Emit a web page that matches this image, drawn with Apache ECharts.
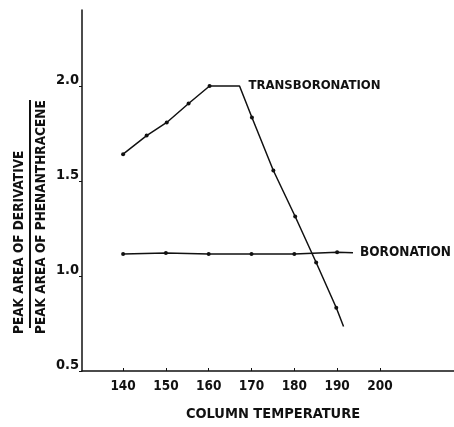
<!DOCTYPE html>
<html>
<head>
<meta charset="utf-8">
<script src="https://cdn.jsdelivr.net/npm/echarts@6/dist/echarts.min.js"></script>
<style>
  html, body { margin: 0; padding: 0; background: #fff; }
  #chart { width: 454px; height: 427px; }
</style>
</head>
<body>
<div id="chart"></div>
<script>
// values
const transTemps = [140, 145.5, 150.2, 155.3, 160.2, 167.2, 170.1, 175.1, 180.2, 185.1, 189.8, 191.5];
const transRatio = [1.641, 1.739, 1.808, 1.908, 2.0, 2.0, 1.834, 1.555, 1.313, 1.071, 0.833, 0.734];
const boroTemps = [140, 150, 160, 170, 180, 190, 193.7];
const boroRatio = [1.116, 1.121, 1.116, 1.116, 1.116, 1.125, 1.122];
const xTicks = [140, 150, 160, 170, 180, 190, 200];
const yTicks = [0.5, 1.0, 1.5, 2.0];

const FONT = "'Liberation Sans Narrow', 'DejaVu Sans Condensed', sans-serif";
const INK = "#111";
const FS = 13.5;

const chart = echarts.init(document.getElementById("chart"));

// line ends without a dot (curve corner / leader to label)
const noDot = [false, false, false, false, false, true, false, false, false, false, false, true];

const transData = transTemps.map((t, i) => {
	const item = { value: [t, transRatio[i]] };
	if (noDot[i]) item.symbolSize = 0;
	if (i === 5) {
		item.label = {
			show: true,
			formatter: "TRANSBORONATION",
			position: "right",
			distance: 9,
			color: INK,
			fontFamily: FONT,
			fontWeight: "bold",
			fontSize: 13
		};
	}
	return item;
});
const boroData = boroTemps.map((t, i) => {
	const item = { value: [t, boroRatio[i]] };
	if (i === boroTemps.length - 1) item.symbolSize = 0;
	return item;
});

const option = {
	animation: false,
	backgroundColor: "#fff",
	grid: { left: 82, right: 0, top: 10, bottom: 50, containLabel: false },
	xAxis: {
		type: "value",
		min: 130.4,
		max: 217.3,
		name: "COLUMN TEMPERATURE",
		nameLocation: "middle",
		nameGap: 36,
		nameTextStyle: {
			color: INK,
			fontFamily: FONT,
			fontWeight: "bold",
			fontSize: 14.5,
			padding: [0, 0, 0, 10]
		},
		axisLine: { lineStyle: { color: INK, width: 1.5 } },
		axisTick: {
			show: true,
			inside: true,
			length: 3,
			customValues: xTicks,
			lineStyle: { color: INK }
		},
		axisLabel: {
			customValues: xTicks,
			margin: 8,
			color: INK,
			fontFamily: FONT,
			fontWeight: "bold",
			fontSize: FS
		},
		splitLine: { show: false }
	},
	yAxis: {
		type: "value",
		min: 0.5,
		max: 2.4,
		axisLine: { show: true, lineStyle: { color: INK, width: 1.5 } },
		axisTick: { show: true, length: 3, customValues: yTicks, lineStyle: { color: INK } },
		axisLabel: {
			customValues: yTicks,
			margin: 3,
			color: INK,
			fontFamily: FONT,
			fontWeight: "bold",
			fontSize: 14.5,
			verticalAlign: "bottom",
			lineHeight: 12,
			formatter: v => v.toFixed(1)
		},
		splitLine: { show: false }
	},
	graphic: [
		{
			type: "text",
			x: 19,
			y: 334,
			rotation: Math.PI / 2,
			style: {
				text: "PEAK AREA OF DERIVATIVE",
				fill: INK,
				font: "bold " + FS + "px " + FONT,
				align: "left",
				verticalAlign: "middle"
			}
		},
		{
			type: "line",
			shape: { x1: 30, y1: 100, x2: 30, y2: 328 },
			style: { stroke: INK, lineWidth: 2 }
		},
		{
			type: "text",
			x: 41,
			y: 334,
			rotation: Math.PI / 2,
			style: {
				text: "PEAK AREA OF PHENANTHRACENE",
				fill: INK,
				font: "bold " + FS + "px " + FONT,
				align: "left",
				verticalAlign: "middle"
			}
		}
	],
	series: [
		{
			name: "TRANSBORONATION",
			type: "line",
			data: transData,
			symbol: "circle",
			symbolSize: 4,
			itemStyle: { color: INK },
			lineStyle: { color: INK, width: 1.5 }
		},
		{
			name: "BORONATION",
			type: "line",
			data: boroData,
			symbol: "circle",
			symbolSize: 4,
			itemStyle: { color: INK },
			lineStyle: { color: INK, width: 1.5 },
			endLabel: {
				show: true,
				formatter: "BORONATION",
				distance: 7,
				color: INK,
				fontFamily: FONT,
				fontWeight: "bold",
				fontSize: FS
			}
		}
	]
};

chart.setOption(option);
</script>
</body>
</html>
